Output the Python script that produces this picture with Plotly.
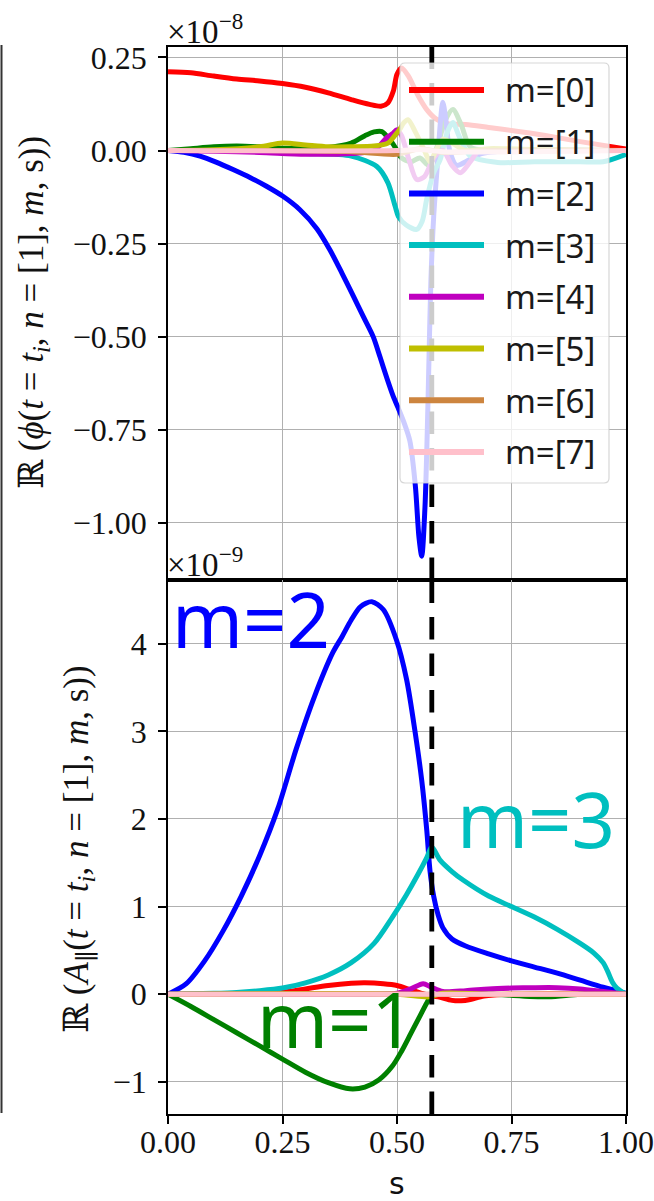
import plotly.graph_objects as go

W, H = 654, 1201


def fx(px):
    return px / W


def fy(py):
    return 1 - py / H


# Poloidal harmonics and their line colours
harmonics = [0, 1, 2, 3, 4, 5, 6, 7]
colors = ["#ff0000", "#008000", "#0000ff", "#00bfbf",
          "#bf00bf", "#bfbf00", "#cd853f", "#ffc0cb"]

# Resonant surface position
s_res = 0.576

# ---- Re(phi) profiles, in units of 1e-8 ----
phi_s_m0 = [0, 0.05, 0.1, 0.15, 0.2, 0.25, 0.3, 0.35, 0.4, 0.44, 0.465, 0.48, 0.492,
            0.50, 0.51, 0.525, 0.545, 0.565, 0.585, 0.61, 0.65, 0.70, 0.80, 0.90, 1.0]
phi_m0 = [0.212, 0.209, 0.200, 0.192, 0.187, 0.180, 0.170, 0.155, 0.137, 0.124, 0.119, 0.128,
          0.160, 0.205, 0.222, 0.200, 0.150, 0.110, 0.085, 0.072, 0.070, 0.062, 0.045, 0.024, 0.004]

phi_s_m1 = [0, 0.05, 0.1, 0.15, 0.2, 0.25, 0.3, 0.35, 0.4, 0.43, 0.45, 0.467, 0.48, 0.49,
            0.50, 0.51, 0.53, 0.55, 0.57, 0.59, 0.605, 0.622, 0.64, 0.66, 0.7, 0.8, 1.0]
phi_m1 = [0, 0.005, 0.010, 0.012, 0.010, 0.006, 0.005, 0.008, 0.020, 0.040, 0.050, 0.051, 0.035,
          0.020, 0.0, -0.020, -0.030, -0.020, -0.040, 0.020, 0.080, 0.110, 0.070, 0.010, 0.0, 0.0, 0.0]

phi_s_m2 = [0, 0.035, 0.07, 0.105, 0.142, 0.18, 0.215, 0.251, 0.288, 0.325, 0.354, 0.38,
            0.405, 0.426, 0.448, 0.463, 0.478, 0.491, 0.502, 0.515, 0.528, 0.54, 0.548, 0.554,
            0.561, 0.566, 0.570, 0.574, 0.58, 0.588, 0.595, 0.60, 0.607, 0.615, 0.63, 0.65,
            0.68, 0.75, 1.0]
phi_m2 = [0, -0.005, -0.015, -0.031, -0.051, -0.073, -0.096, -0.123, -0.159, -0.210, -0.268,
          -0.330, -0.392, -0.445, -0.500, -0.555, -0.612, -0.658, -0.690, -0.730, -0.780, -0.900,
          -1.040, -1.090, -0.960, -0.760, -0.550, -0.350, -0.180, -0.040, 0.080, 0.130, 0.080,
          0.0, -0.040, -0.030, -0.010, 0.0, 0.0]

phi_s_m3 = [0, 0.1, 0.2, 0.3, 0.4, 0.456, 0.48, 0.496, 0.503, 0.52, 0.543, 0.555, 0.565,
            0.58, 0.594, 0.61, 0.622, 0.635, 0.66, 0.72, 0.8, 0.9, 0.95, 1.0]
phi_m3 = [0, 0, -0.003, -0.008, -0.015, -0.043, -0.086, -0.150, -0.177, -0.200, -0.212, -0.190,
          -0.130, -0.060, -0.025, 0.050, 0.075, 0.040, -0.015, -0.032, -0.030, -0.030, -0.030, -0.010]

phi_s_m4 = [0, 0.1, 0.2, 0.3, 0.4, 0.45, 0.478, 0.49, 0.50, 0.51, 0.525, 0.543, 0.56, 0.58,
            0.60, 0.62, 0.638, 0.66, 0.68, 0.75, 1.0]
phi_m4 = [0, -0.002, -0.005, -0.010, -0.008, 0.0, 0.035, 0.045, 0.056, 0.040, -0.020, -0.078,
          -0.070, -0.020, 0.0, -0.040, -0.060, -0.030, 0.0, 0.0, 0.0]

phi_s_m5 = [0, 0.1, 0.2, 0.25, 0.3, 0.35, 0.4, 0.45, 0.48, 0.495, 0.505, 0.515, 0.524, 0.54,
            0.56, 0.572, 0.585, 0.60, 0.62, 0.65, 0.7, 0.8, 1.0]
phi_m5 = [0, 0.002, 0.010, 0.020, 0.015, 0.010, 0.010, 0.012, 0.020, 0.040, 0.055, 0.075, 0.083,
          0.050, 0.0, -0.030, 0.0, 0.030, 0.020, 0.0, 0.005, 0.003, 0.0]

phi_s_m6 = [0, 0.2, 0.4, 0.5, 0.55, 0.6, 0.7, 1.0]
phi_m6 = [0, 0, -0.003, -0.010, 0.005, -0.005, 0, 0]

phi_s_m7 = [0, 0.5, 0.55, 0.6, 1.0]
phi_m7 = [0, 0, 0.003, -0.003, 0]

# ---- Re(A_par) profiles, in units of 1e-9 ----
apar_s_m0 = [0, 0.2, 0.25, 0.3, 0.35, 0.4, 0.43, 0.47, 0.5, 0.53, 0.56, 0.59, 0.62, 0.64,
             0.66, 0.69, 0.75, 1.0]
apar_m0 = [0, 0.005, 0.02, 0.06, 0.10, 0.125, 0.13, 0.12, 0.10, 0.05, 0.0, -0.03, -0.07,
           -0.075, -0.06, -0.02, 0.0, 0.0]

apar_s_m1 = [0, 0.05, 0.1, 0.15, 0.2, 0.25, 0.3, 0.35, 0.397, 0.43, 0.46, 0.49, 0.51, 0.53,
             0.55, 0.565, 0.575, 0.6, 0.7, 0.83, 0.9, 1.0]
apar_m1 = [0, -0.14, -0.29, -0.44, -0.59, -0.74, -0.89, -1.01, -1.08, -1.06, -0.98, -0.82,
           -0.65, -0.45, -0.25, -0.10, -0.02, 0.0, 0.0, -0.03, 0.0, 0.0]

apar_s_m2 = [0, 0.04, 0.08, 0.12, 0.16, 0.2, 0.24, 0.28, 0.32, 0.36, 0.38, 0.40, 0.42, 0.445,
             0.47, 0.499, 0.521, 0.539, 0.554, 0.565, 0.572, 0.58, 0.59, 0.60, 0.62, 0.65,
             0.70, 0.75, 0.80, 0.85, 0.90, 0.95, 1.0]
apar_m2 = [0, 0.12, 0.38, 0.72, 1.12, 1.58, 2.12, 2.80, 3.40, 3.90, 4.08, 4.27, 4.42, 4.48,
           4.39, 4.04, 3.59, 3.01, 2.44, 1.87, 1.41, 1.12, 0.90, 0.76, 0.63, 0.55, 0.46, 0.38,
           0.31, 0.24, 0.16, 0.08, 0.01]

apar_s_m3 = [0, 0.1, 0.15, 0.2, 0.25, 0.3, 0.35, 0.4, 0.45, 0.49, 0.52, 0.545, 0.565, 0.576,
             0.594, 0.62, 0.645, 0.70, 0.75, 0.80, 0.85, 0.90, 0.93, 0.95, 0.96, 0.97, 0.98, 1.0]
apar_m3 = [0, 0.01, 0.02, 0.04, 0.07, 0.13, 0.22, 0.36, 0.58, 0.88, 1.13, 1.36, 1.56, 1.68,
           1.53, 1.40, 1.30, 1.12, 1.00, 0.88, 0.74, 0.58, 0.47, 0.36, 0.26, 0.14, 0.07, 0.0]

apar_s_m4 = [0, 0.4, 0.5, 0.53, 0.557, 0.575, 0.6, 0.65, 0.7, 0.75, 0.8, 0.85, 0.9, 0.95, 1.0]
apar_m4 = [0, 0, 0.01, 0.06, 0.12, 0.08, 0.03, 0.04, 0.06, 0.07, 0.075, 0.075, 0.06, 0.03, 0.0]

apar_s_m5 = [0, 0.5, 0.57, 0.6, 0.7, 1.0]
apar_m5 = [0, 0, -0.03, 0.01, 0.0, 0.0]

apar_s_m6 = [0, 0.5, 0.6, 1.0]
apar_m6 = [0, 0.003, -0.003, 0]

apar_s_m7 = [0, 0.5, 1.0]
apar_m7 = [0, 0, 0]

phi_s = [phi_s_m0, phi_s_m1, phi_s_m2, phi_s_m3, phi_s_m4, phi_s_m5, phi_s_m6, phi_s_m7]
phi_v = [phi_m0, phi_m1, phi_m2, phi_m3, phi_m4, phi_m5, phi_m6, phi_m7]
apar_s = [apar_s_m0, apar_s_m1, apar_s_m2, apar_s_m3, apar_s_m4, apar_s_m5, apar_s_m6, apar_s_m7]
apar_v = [apar_m0, apar_m1, apar_m2, apar_m3, apar_m4, apar_m5, apar_m6, apar_m7]

# Axis ticks
s_ticks = [0.0, 0.25, 0.5, 0.75, 1.0]
s_ticktext = ["0.00", "0.25", "0.50", "0.75", "1.00"]
phi_ticks = [0.25, 0.0, -0.25, -0.5, -0.75, -1.0]
phi_ticktext = ["0.25", "0.00", "\u22120.25", "\u22120.50", "\u22120.75", "\u22121.00"]
apar_ticks = [4, 3, 2, 1, 0, -1]
apar_ticktext = ["4", "3", "2", "1", "0", "\u22121"]
phi_range = [-1.154, 0.279]
apar_range = [-1.367, 4.727]

fig = go.Figure()

for m, s, v, c in zip(harmonics, phi_s, phi_v, colors):
    fig.add_trace(go.Scatter(x=s, y=v, mode="lines", name=f"m=[{m}]",
                             line=dict(color=c, width=5, shape="spline", smoothing=0.8),
                             xaxis="x", yaxis="y", showlegend=False))

for m, s, v, c in zip(harmonics, apar_s, apar_v, colors):
    fig.add_trace(go.Scatter(x=s, y=v, mode="lines", name=f"m=[{m}]",
                             line=dict(color=c, width=5, shape="spline", smoothing=0.8),
                             xaxis="x2", yaxis="y2", showlegend=False))

tick_font = dict(family="Liberation Serif, DejaVu Serif, serif", size=32, color="#111")
grid = dict(showgrid=True, gridcolor="#b0b0b0", gridwidth=1.3, zeroline=False,
            showline=True, linecolor="black", linewidth=1.6, mirror=True, automargin=False)

x_dom = [fx(168), fx(626)]
fig.update_layout(
    template="none",
    width=W, height=H, margin=dict(l=0, r=0, t=0, b=0, pad=0, autoexpand=False),
    paper_bgcolor="white", plot_bgcolor="white",
    xaxis=dict(domain=x_dom, anchor="y", range=[0, 1], tickvals=s_ticks,
               showticklabels=False, ticks="", **grid),
    yaxis=dict(domain=[fy(580), fy(46.7)], anchor="x", range=phi_range,
               tickvals=phi_ticks, ticktext=phi_ticktext, ticks="outside", ticklen=8,
               tickwidth=1.5, tickcolor="black", tickfont=tick_font, ticklabelstandoff=5, **grid),
    xaxis2=dict(domain=x_dom, anchor="y2", matches="x", range=[0, 1], tickvals=s_ticks,
                ticktext=s_ticktext, ticks="outside", ticklen=8, tickwidth=1.5,
                tickcolor="black", tickfont=tick_font, ticklabelstandoff=-9, **grid),
    yaxis2=dict(domain=[fy(1114), fy(580)], anchor="x2", range=apar_range,
                tickvals=apar_ticks, ticktext=apar_ticktext, ticks="outside", ticklen=8,
                tickwidth=1.5, tickcolor="black", tickfont=tick_font, ticklabelstandoff=5, **grid),
)

shapes = []
# Resonant surface markers (drawn upward from the lower edge of each panel)
for xr, yr, rng in (("x", "y", phi_range), ("x2", "y2", apar_range)):
    shapes.append(dict(type="line", xref=xr, yref=yr, x0=s_res, x1=s_res,
                       y0=rng[0], y1=rng[1], layer="above",
                       line=dict(color="black", width=4.8, dash="22.5px,14px")))

# Legend frame with rounded corners
lx0, lx1, ly0, ly1, r = 400, 609, 63, 483, 5
path = (f"M {fx(lx0 + r)},{fy(ly0)} L {fx(lx1 - r)},{fy(ly0)} "
        f"Q {fx(lx1)},{fy(ly0)} {fx(lx1)},{fy(ly0 + r)} L {fx(lx1)},{fy(ly1 - r)} "
        f"Q {fx(lx1)},{fy(ly1)} {fx(lx1 - r)},{fy(ly1)} L {fx(lx0 + r)},{fy(ly1)} "
        f"Q {fx(lx0)},{fy(ly1)} {fx(lx0)},{fy(ly1 - r)} L {fx(lx0)},{fy(ly0 + r)} "
        f"Q {fx(lx0)},{fy(ly0)} {fx(lx0 + r)},{fy(ly0)} Z")
shapes.append(dict(type="path", xref="paper", yref="paper", path=path, layer="above",
                   fillcolor="rgba(255,255,255,0.8)",
                   line=dict(color="rgba(204,204,204,0.8)", width=1.2)))

annotations = []
entry_y0, entry_dy = 90, 51.7
for i, (m, c) in enumerate(zip(harmonics, colors)):
    yy = entry_y0 + i * entry_dy
    shapes.append(dict(type="line", xref="paper", yref="paper", layer="above",
                       x0=fx(409), x1=fx(484), y0=fy(yy), y1=fy(yy),
                       line=dict(color=c, width=6)))
    annotations.append(dict(xref="paper", yref="paper", x=fx(503), y=fy(yy),
                            xanchor="left", yanchor="middle", showarrow=False,
                            text=f"m=[{m}]",
                            font=dict(family="Noto Sans, DejaVu Sans, sans-serif",
                                      size=33, color="#1a1a1a")))

# Thin frame line on the far left
shapes.append(dict(type="line", xref="paper", yref="paper", x0=fx(1.5), x1=fx(1.5),
                   y0=fy(45), y1=fy(1113), line=dict(color="#333", width=2)))

serif = "Liberation Serif, DejaVu Serif, serif"
annotations += [
    dict(xref="paper", yref="paper", x=fx(165), y=fy(52), xanchor="left", yanchor="bottom",
         showarrow=False, text="\u00d710<sup>\u22128</sup>",
         font=dict(family=serif, size=33, color="#111")),
    dict(xref="paper", yref="paper", x=fx(165), y=fy(585), xanchor="left", yanchor="bottom",
         showarrow=False, text="\u00d710<sup>\u22129</sup>",
         font=dict(family=serif, size=33, color="#111")),
    dict(xref="paper", yref="paper", x=fx(34), y=fy(313), xanchor="center", yanchor="middle",
         textangle=-90, showarrow=False,
         text="\u211d (<i>\u03d5</i>(<i>t</i> = <i>t<sub>i</sub></i>, <i>n</i> = [1], <i>m</i>, s))",
         font=dict(family=serif, size=35, color="#111")),
    dict(xref="paper", yref="paper", x=fx(78), y=fy(849), xanchor="center", yanchor="middle",
         textangle=-90, showarrow=False,
         text="\u211d (<i>A</i><sub>\u2225</sub>(<i>t</i> = <i>t<sub>i</sub></i>, <i>n</i> = [1], <i>m</i>, s))",
         font=dict(family=serif, size=35, color="#111")),
    dict(xref="paper", yref="paper", x=fx(397), y=fy(1183), xanchor="center", yanchor="middle",
         showarrow=False, text="s",
         font=dict(family="DejaVu Sans, sans-serif", size=30, color="#111")),
    dict(xref="paper", yref="paper", x=fx(170), y=fy(618), xanchor="left", yanchor="middle",
         showarrow=False, text="m=2",
         font=dict(family="Noto Sans, DejaVu Sans, sans-serif", size=76, color="#0000ff")),
    dict(xref="paper", yref="paper", x=fx(455), y=fy(818), xanchor="left", yanchor="middle",
         showarrow=False, text="m=3",
         font=dict(family="Noto Sans, DejaVu Sans, sans-serif", size=76, color="#00bfbf")),
    dict(xref="paper", yref="paper", x=fx(255), y=fy(1018), xanchor="left", yanchor="middle",
         showarrow=False, text="m=1",
         font=dict(family="Noto Sans, DejaVu Sans, sans-serif", size=76, color="#008000")),
]

fig.update_layout(shapes=shapes, annotations=annotations)
fig.write_html("out.html")
